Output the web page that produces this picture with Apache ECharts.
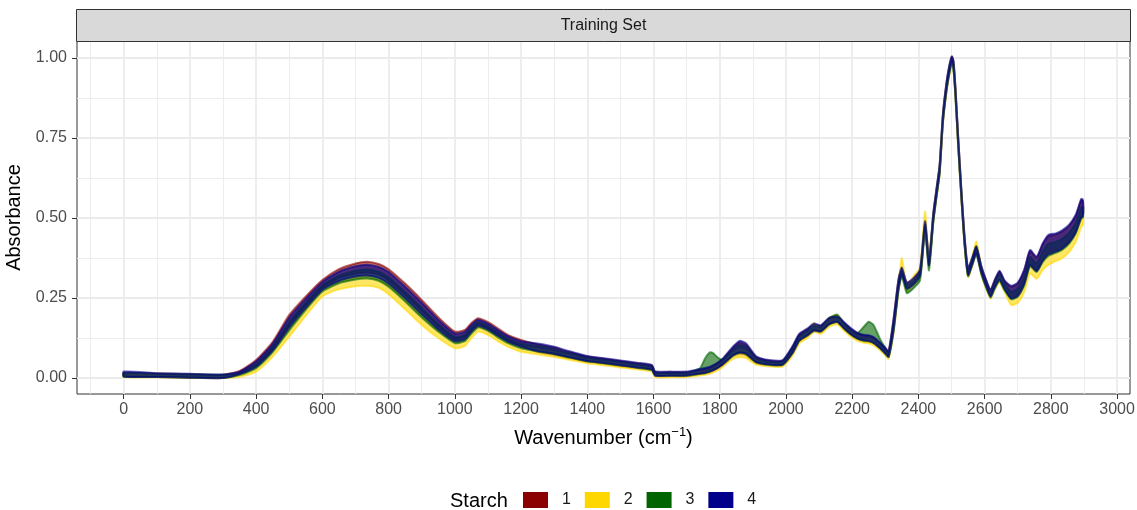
<!DOCTYPE html>
<html>
<head>
<meta charset="utf-8">
<script src="https://cdn.jsdelivr.net/npm/echarts@6.0.0/dist/echarts.min.js"></script>
<style>
html,body{margin:0;padding:0;background:#ffffff;}
#chart{width:1137px;height:510px;}
</style>
</head>
<body>
<div id="chart"></div>
<script>
// ---------------- data ----------------
const wavenumber = [
  0,100,200,300,
  350,400,450,500,550,600,650,700,735,770,800,850,900,950,1000,
  1030,1050,1070,1090,1110,1130,1160,1200,
  1250,1300,1340,1360,1400,1450,1500,1550,1595,
  1605,1650,1700,1740,1755,1770,1780,1790,1800,1810,
  1840,1860,1880,1910,1950,1990,
  2020,2040,2065,2085,2105,2130,2155,2175,2195,2215,2235,2250,2265,2285,2300,2310,
  2325,2340,2350,2365,2385,2405,2420,2432,2445,2455,2464,2474,2485,2493,2501,2506,2512,2520,2530,2540,2550,
  2563,2575,2590,2605,2618,2630,2645,2660,
  2680,2700,2720,2737,2757,2775,2792,2815,2835,2856,2875,2892,2897
];

// Starch class 1 : lower / upper edge of the spectra band
const starch1Low = [
  0.004,0.003,0.001,0.000,
  0.014,0.040,0.092,0.166,0.228,0.283,0.312,0.326,0.329,0.323,0.305,0.259,0.209,0.161,0.122,
  0.128,0.151,0.168,0.162,0.151,0.137,0.118,0.102,
  0.081,0.072,0.063,0.059,0.051,0.044,0.037,0.031,0.024,
  0.007,0.006,0.006,0.012,0.014,0.017,0.022,0.027,0.033,0.041,
  0.068,0.075,0.071,0.047,0.040,0.040,
  0.076,0.114,0.131,0.146,0.143,0.166,0.174,0.153,0.135,0.122,0.115,0.113,0.107,0.091,0.075,0.065,
  0.154,0.282,0.324,0.280,0.293,0.320,0.466,0.353,0.494,0.574,0.644,0.804,0.904,0.954,0.991,0.969,0.884,0.734,0.564,0.414,0.323,
  0.358,0.391,0.330,0.286,0.256,0.284,0.309,0.281,
  0.252,0.260,0.298,0.356,0.338,0.370,0.391,0.400,0.410,0.429,0.459,0.508,0.509
];
const starch1High = [
  0.016,0.014,0.012,0.010,
  0.022,0.056,0.113,0.197,0.255,0.306,0.340,0.358,0.363,0.356,0.340,0.295,0.244,0.190,0.145,
  0.150,0.172,0.187,0.180,0.169,0.155,0.135,0.119,
  0.105,0.095,0.082,0.077,0.067,0.060,0.053,0.046,0.039,
  0.019,0.018,0.018,0.026,0.029,0.033,0.038,0.044,0.051,0.059,
  0.094,0.111,0.103,0.065,0.054,0.054,
  0.097,0.135,0.152,0.167,0.162,0.185,0.190,0.172,0.154,0.140,0.133,0.131,0.125,0.108,0.092,0.082,
  0.183,0.308,0.344,0.297,0.311,0.339,0.488,0.371,0.513,0.593,0.663,0.823,0.923,0.973,1.004,0.989,0.904,0.754,0.584,0.434,0.342,
  0.377,0.409,0.349,0.304,0.275,0.304,0.333,0.303,
  0.285,0.295,0.337,0.396,0.376,0.416,0.442,0.448,0.458,0.476,0.506,0.556,0.552
];

// Starch class 2
const starch2Low = [
  0.003,0.002,0.000,0.000,
  0.004,0.020,0.067,0.129,0.195,0.255,0.277,0.287,0.288,0.282,0.262,0.215,0.166,0.125,0.093,
  0.100,0.125,0.145,0.140,0.129,0.115,0.098,0.082,
  0.074,0.066,0.058,0.054,0.046,0.040,0.033,0.027,0.020,
  0.003,0.002,0.003,0.008,0.010,0.013,0.017,0.022,0.028,0.036,
  0.060,0.065,0.062,0.042,0.036,0.036,
  0.070,0.108,0.125,0.145,0.138,0.160,0.168,0.148,0.130,0.117,0.110,0.108,0.102,0.086,0.070,0.060,
  0.140,0.270,0.320,0.272,0.290,0.315,0.465,0.348,0.485,0.565,0.635,0.795,0.895,0.945,0.985,0.960,0.875,0.725,0.555,0.405,0.315,
  0.352,0.388,0.322,0.278,0.248,0.275,0.298,0.270,
  0.228,0.235,0.270,0.327,0.310,0.337,0.353,0.365,0.375,0.395,0.425,0.473,0.478
];
const starch2High = [
  0.014,0.012,0.010,0.009,
  0.012,0.035,0.086,0.158,0.220,0.276,0.303,0.317,0.320,0.313,0.295,0.249,0.199,0.152,0.115,
  0.121,0.145,0.163,0.157,0.146,0.132,0.114,0.098,
  0.089,0.080,0.070,0.066,0.056,0.050,0.043,0.036,0.029,
  0.011,0.010,0.011,0.017,0.019,0.023,0.027,0.033,0.039,0.048,
  0.077,0.088,0.083,0.054,0.045,0.045,
  0.084,0.122,0.139,0.172,0.150,0.188,0.196,0.165,0.142,0.128,0.121,0.120,0.114,0.097,0.081,0.071,
  0.165,0.292,0.375,0.286,0.318,0.345,0.520,0.368,0.502,0.582,0.652,0.812,0.912,0.962,0.996,0.977,0.892,0.742,0.572,0.422,0.330,
  0.380,0.426,0.345,0.293,0.263,0.292,0.318,0.289,
  0.251,0.259,0.297,0.355,0.336,0.369,0.389,0.398,0.408,0.427,0.457,0.506,0.508
];

// Starch class 3
const starch3Low = [
  0.004,0.003,0.001,0.000,
  0.009,0.031,0.081,0.149,0.213,0.270,0.296,0.308,0.311,0.304,0.285,0.239,0.189,0.145,0.109,
  0.115,0.139,0.158,0.152,0.141,0.127,0.109,0.093,
  0.083,0.074,0.065,0.061,0.052,0.046,0.039,0.032,0.025,
  0.008,0.007,0.007,0.013,0.015,0.020,0.025,0.030,0.036,0.043,
  0.070,0.078,0.074,0.049,0.041,0.041,
  0.078,0.116,0.133,0.148,0.145,0.167,0.175,0.155,0.137,0.123,0.116,0.115,0.109,0.092,0.076,0.066,
  0.145,0.274,0.318,0.265,0.280,0.305,0.459,0.336,0.488,0.568,0.638,0.798,0.898,0.948,0.987,0.963,0.878,0.728,0.558,0.408,0.318,
  0.353,0.386,0.325,0.281,0.251,0.278,0.302,0.274,
  0.246,0.254,0.291,0.349,0.331,0.362,0.381,0.391,0.401,0.421,0.451,0.499,0.501
];
const starch3High = [
  0.015,0.013,0.011,0.010,
  0.016,0.044,0.098,0.175,0.236,0.290,0.320,0.335,0.339,0.332,0.315,0.269,0.219,0.169,0.128,
  0.134,0.157,0.174,0.167,0.156,0.142,0.123,0.107,
  0.100,0.090,0.078,0.074,0.063,0.057,0.050,0.043,0.036,
  0.017,0.016,0.016,0.030,0.060,0.080,0.078,0.068,0.060,0.058,
  0.089,0.103,0.097,0.062,0.051,0.051,
  0.093,0.131,0.148,0.163,0.158,0.186,0.198,0.172,0.150,0.140,0.160,0.176,0.165,0.120,0.094,0.078,
  0.172,0.298,0.336,0.290,0.304,0.332,0.480,0.364,0.506,0.586,0.656,0.816,0.916,0.966,0.999,0.981,0.896,0.746,0.576,0.426,0.335,
  0.370,0.412,0.342,0.297,0.268,0.296,0.324,0.295,
  0.270,0.279,0.319,0.378,0.358,0.395,0.419,0.426,0.436,0.455,0.485,0.534,0.533
];

// Starch class 4
const starch4Low = [
  0.005,0.003,0.001,0.000,
  0.012,0.035,0.086,0.158,0.220,0.276,0.303,0.317,0.320,0.313,0.295,0.249,0.199,0.152,0.115,
  0.121,0.145,0.163,0.157,0.146,0.132,0.114,0.098,
  0.084,0.076,0.066,0.062,0.053,0.047,0.040,0.033,0.026,
  0.008,0.007,0.008,0.014,0.016,0.020,0.024,0.029,0.036,0.044,
  0.071,0.080,0.076,0.050,0.042,0.042,
  0.079,0.117,0.134,0.149,0.146,0.168,0.176,0.156,0.138,0.125,0.118,0.116,0.110,0.093,0.077,0.067,
  0.151,0.280,0.323,0.279,0.292,0.319,0.464,0.352,0.492,0.572,0.642,0.802,0.902,0.952,0.990,0.968,0.883,0.733,0.563,0.413,0.322,
  0.357,0.390,0.329,0.285,0.255,0.283,0.307,0.279,
  0.249,0.257,0.295,0.353,0.334,0.366,0.386,0.395,0.405,0.425,0.455,0.503,0.505
];
const starch4High = [
  0.020,0.015,0.013,0.011,
  0.020,0.052,0.107,0.189,0.248,0.300,0.332,0.349,0.354,0.347,0.331,0.285,0.235,0.182,0.139,
  0.144,0.166,0.182,0.175,0.164,0.150,0.131,0.115,
  0.108,0.098,0.085,0.080,0.069,0.062,0.055,0.048,0.041,
  0.021,0.020,0.020,0.028,0.031,0.035,0.040,0.046,0.053,0.062,
  0.098,0.116,0.108,0.068,0.056,0.056,
  0.100,0.138,0.155,0.170,0.165,0.188,0.192,0.175,0.157,0.142,0.135,0.134,0.128,0.110,0.094,0.084,
  0.185,0.310,0.345,0.298,0.312,0.340,0.490,0.372,0.515,0.595,0.665,0.825,0.925,0.975,1.005,0.990,0.905,0.755,0.585,0.435,0.343,
  0.378,0.410,0.350,0.305,0.276,0.305,0.335,0.305,
  0.288,0.298,0.340,0.400,0.379,0.420,0.447,0.452,0.462,0.480,0.510,0.560,0.556
];

const starchLevels = ['1','2','3','4'];
const xTicks = [0,200,400,600,800,1000,1200,1400,1600,1800,2000,2200,2400,2600,2800,3000];
const xMinorTicks = [-100,100,300,500,700,900,1100,1300,1500,1700,1900,2100,2300,2500,2700,2900];
const yTicks = [0,0.25,0.5,0.75,1];
const yMinorTicks = [0.125,0.375,0.625,0.875];

// ---------------- styling ----------------
const palette = ['#8B0000','#FFD700','#006400','#00008B'];
const FONT = '"Liberation Sans", Arial, Helvetica, sans-serif';
const bands = [
  [starch1Low, starch1High],
  [starch2Low, starch2High],
  [starch3Low, starch3High],
  [starch4Low, starch4High]
];

const series = bands.map(function (pair, k) {
  const lo = pair[0], hi = pair[1];
  const color = palette[k];
  return {
    type: 'custom',
    name: starchLevels[k],
    color: color,
    silent: true,
    clip: true,
    xAxisIndex: 0, yAxisIndex: 0,
    encode: { x: 0, y: [1, 2] },
    data: wavenumber.map(function (x, i) { return [x, lo[i], hi[i]]; }),
    renderItem: function (params, api) {
      if (params.dataIndex !== 0) { return null; }
      const pts = [];
      for (let i = 0; i < wavenumber.length; i++) { pts.push(api.coord([wavenumber[i], hi[i]])); }
      for (let i = wavenumber.length - 1; i >= 0; i--) { pts.push(api.coord([wavenumber[i], lo[i]])); }
      return {
        type: 'polygon',
        shape: { points: pts, smooth: 0.2 },
        style: { fill: color, stroke: color, lineWidth: 2, opacity: 0.6, lineJoin: 'round' }
      };
    }
  };
});

const chart = echarts.init(document.getElementById('chart'), null, { renderer: 'canvas' });
chart.setOption({
  animation: false,
  textStyle: { fontFamily: FONT },
  grid: { left: 77, right: 7, top: 41, bottom: 116, show: true, borderColor: '#333333', borderWidth: 1,
    backgroundColor: 'transparent', containLabel: false, outerBoundsMode: 'none' },
  xAxis: [
    {
      type: 'value', min: -141, max: 3039, position: 'bottom',
      axisLine: { show: false, onZero: false },
      axisTick: { show: true, length: 5, customValues: xTicks, lineStyle: { color: '#333333', width: 1 } },
      axisLabel: { customValues: xTicks, color: '#4D4D4D', fontSize: 16, margin: 8, fontFamily: FONT,
        formatter: function (v) { return String(v); } },
      splitLine: { show: true, lineStyle: { color: '#EBEBEB', width: 1.8 } },
      name: '{t|Wavenumber (cm}{s|−1}{t|)}', nameLocation: 'middle', nameGap: 32,
      nameTextStyle: {
        rich: {
          t: { fontSize: 20, color: '#000000', fontFamily: FONT, lineHeight: 24 },
          s: { fontSize: 13, color: '#000000', fontFamily: FONT, verticalAlign: 'top', lineHeight: 13 }
        }
      }
    },
    {
      type: 'value', min: -141, max: 3039, position: 'top',
      axisLine: { show: false, onZero: false }, axisLabel: { show: false },
      axisTick: { show: false, customValues: xMinorTicks },
      splitLine: { show: true, lineStyle: { color: '#EBEBEB', width: 0.9 } }
    }
  ],
  yAxis: [
    {
      type: 'value', min: -0.05, max: 1.053, position: 'left',
      axisLine: { show: false, onZero: false },
      axisTick: { show: true, length: 5, customValues: yTicks, lineStyle: { color: '#333333', width: 1 } },
      axisLabel: { customValues: yTicks, color: '#4D4D4D', fontSize: 16, margin: 10, fontFamily: FONT,
        formatter: function (v) { return v.toFixed(2); } },
      splitLine: { show: true, lineStyle: { color: '#EBEBEB', width: 1.8 } },
      name: 'Absorbance', nameLocation: 'middle', nameGap: 48, nameRotate: 90,
      nameTextStyle: { fontSize: 20, color: '#000000', fontFamily: FONT }
    },
    {
      type: 'value', min: -0.05, max: 1.053, position: 'right',
      axisLine: { show: false, onZero: false }, axisLabel: { show: false },
      axisTick: { show: false, customValues: yMinorTicks },
      splitLine: { show: true, lineStyle: { color: '#EBEBEB', width: 0.9 } }
    }
  ],
  legend: {
    show: true, left: 523, top: 492, orient: 'horizontal', padding: 0,
    icon: 'rect', itemWidth: 25, itemHeight: 16, itemGap: 14,
    selectedMode: false,
    data: starchLevels.map(function (n, k) { return { name: n, icon: 'rect', itemStyle: { color: palette[k], opacity: 1, borderWidth: 0 } }; }),
    formatter: function (n) { return '  ' + n; },
    textStyle: { fontSize: 16, color: '#1A1A1A', fontFamily: FONT }
  },
  graphic: [
    { type: 'rect', silent: true, z: 10,
      shape: { x: 76.5, y: 9.5, width: 1054, height: 32 },
      style: { fill: '#D9D9D9', stroke: '#333333', lineWidth: 1 } },
    { type: 'text', silent: true, z: 11, x: 603.5, y: 25.5,
      style: { text: 'Training Set', fill: '#1A1A1A', font: '16px ' + FONT, textAlign: 'center', textVerticalAlign: 'middle' } },
    { type: 'text', silent: true, z: 11, x: 450, y: 501,
      style: { text: 'Starch', fill: '#000000', font: '20px ' + FONT, textAlign: 'left', textVerticalAlign: 'middle' } }
  ],
  series: series
});
</script>
</body>
</html>
